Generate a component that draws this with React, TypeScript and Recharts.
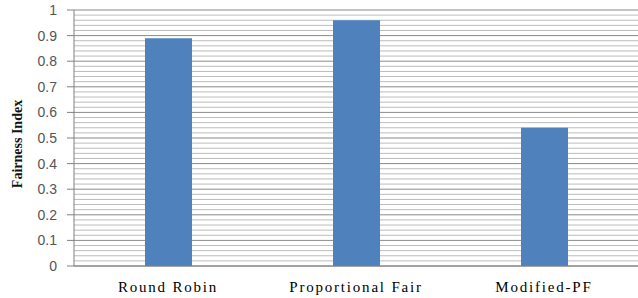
import { Bar, BarChart, CartesianGrid, XAxis, YAxis } from "recharts";

const schemes = ["Round Robin", "Proportional Fair", "Modified-PF"];
const fairness = [0.89, 0.96, 0.54];
const yTicks = [0, 0.1, 0.2, 0.3, 0.4, 0.5, 0.6, 0.7, 0.8, 0.9, 1];
const minorTicks = [
  0.02, 0.04, 0.06, 0.08, 0.12, 0.14, 0.16, 0.18, 0.22, 0.24, 0.26, 0.28,
  0.32, 0.34, 0.36, 0.38, 0.42, 0.44, 0.46, 0.48, 0.52, 0.54, 0.56, 0.58,
  0.62, 0.64, 0.66, 0.68, 0.72, 0.74, 0.76, 0.78, 0.82, 0.84, 0.86, 0.88,
  0.92, 0.94, 0.96, 0.98,
];

const data = schemes.map((name, i) => ({ name, value: fairness[i] }));

// plot box: value 1 sits at y=10, value 0 at y=266
const TOP = 10;
const BOTTOM = 266;
const SERIF = "'Liberation Serif', 'Times New Roman', serif";

function SchemeTick({ x, y, payload }: any) {
  return (
    <text
      x={x}
      y={y + 18}
      textAnchor="middle"
      fontFamily={SERIF}
      fontSize={15}
      letterSpacing={1.8}
      fill="#000"
    >
      {payload.value}
    </text>
  );
}

export default function App() {
  return (
    <div style={{ position: "absolute", left: 0, top: 0, width: 638, height: 298, background: "#fff" }}>
      <BarChart
        width={638}
        height={298}
        data={data}
        margin={{ top: TOP, right: 0, bottom: 0, left: 0 }}
      >
        <CartesianGrid
          vertical={false}
          horizontalCoordinatesGenerator={() => minorTicks.map((v) => BOTTOM - v * (BOTTOM - TOP))}
          stroke="#bcbcbc"
          strokeWidth={1}
        />
        <CartesianGrid vertical={false} stroke="#8a8a8a" strokeWidth={1} />
        <XAxis
          dataKey="name"
          height={32}
          axisLine={{ stroke: "#808080" }}
          tickLine={false}
          tick={<SchemeTick />}
        />
        <YAxis
          width={74}
          domain={[0, 1]}
          ticks={yTicks}
          interval={0}
          axisLine={{ stroke: "#808080" }}
          tickLine={{ stroke: "#808080" }}
          tickSize={7}
          tickMargin={10}
          tick={{ fill: "#555", fontSize: 14, fontFamily: "Liberation Sans" }}
          label={{
            value: "Fairness Index",
            angle: -90,
            position: "insideLeft",
            dx: 12,
            dy: 6,
            style: { fontFamily: SERIF, fontWeight: "bold", fontSize: 14, fill: "#111", textAnchor: "middle" },
          }}
        />
        <Bar dataKey="value" fill="#4f81bd" barSize={47} isAnimationActive={false} />
      </BarChart>
    </div>
  );
}
